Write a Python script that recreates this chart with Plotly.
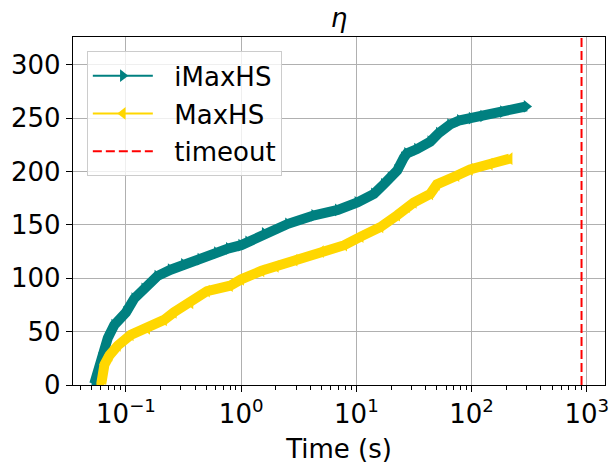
import plotly.graph_objects as go

# Cumulative number of solved instances against solve time (cactus plot)
IMAXHS_TIME = [0.053, 0.061, 0.0695, 0.079, 0.1, 0.118, 0.144, 0.187, 0.244, 0.318,
               0.442, 0.615, 0.78, 1.0, 1.15, 1.6, 2.55, 4.3, 6.9, 10.2,
               14.2, 17.3, 19.8, 22.6, 25.8, 27.5, 33.6, 43.8, 52, 65,
               79, 100, 126, 187, 300]
IMAXHS_SOLVED = [1, 25, 44, 56, 68, 81, 90, 102, 108, 113,
                 118, 124, 128, 131, 134, 142, 151, 159, 164, 171,
                 179, 188, 194, 201, 213, 217, 221, 228, 236, 244,
                 248, 250, 252, 256, 261]

MAXHS_TIME = [0.061, 0.065, 0.072, 0.085, 0.11, 0.153, 0.214, 0.26, 0.363, 0.505,
              0.8, 1.0, 1.5, 2.0, 2.91, 4.93, 7.85, 10.9, 16.2, 22.6,
              27.5, 31.5, 43.8, 50, 74, 97, 144, 214]
MAXHS_SOLVED = [1, 19, 28, 37, 47, 53, 61, 68, 77, 88,
                93, 99, 107, 111, 117, 125, 131, 139, 148, 159,
                167, 171, 179, 188, 196, 202, 207, 212]

TIMEOUT = 900
Y_TOP = 326

X_TICKS = [0.1, 1, 10, 100, 1000]
X_TICK_TEXT = ["10<sup>−1</sup>", "10<sup>0</sup>", "10<sup>1</sup>",
               "10<sup>2</sup>", "10<sup>3</sup>"]
X_MINOR = [m * 10.0 ** e for e in range(-2, 3) for m in range(2, 10)]
Y_TICKS = [0, 50, 100, 150, 200, 250, 300]

TEAL = "#008080"
GOLD = "#FFD700"
FONT = "DejaVu Sans"
GRID = "#b0b0b0"
FS = 26
PAD = "\u00a0\u00a0"  # extra gap between legend symbol and label

fig = go.Figure()

series = [
    ("iMaxHS", IMAXHS_TIME, IMAXHS_SOLVED, TEAL, "triangle-right"),
    ("MaxHS", MAXHS_TIME, MAXHS_SOLVED, GOLD, "triangle-left"),
]
for name, t, n, color, symbol in series:
    # dense marker band underneath
    fig.add_trace(go.Scatter(x=t, y=n, mode="lines", legendgroup=name,
                             line=dict(color=color, width=10),
                             showlegend=False, hoverinfo="skip"))
    fig.add_trace(go.Scatter(x=t, y=n, mode="lines+markers", name=PAD + name,
                             legendgroup=name,
                             line=dict(color=color, width=2),
                             marker=dict(symbol=symbol, size=11, color=color,
                                         line=dict(width=0))))

fig.add_trace(go.Scatter(x=[TIMEOUT, TIMEOUT], y=[0, Y_TOP], mode="lines",
                         name=PAD + "timeout", legendgroup="timeout",
                         line=dict(color="red", width=2, dash="9px,4px")))

fig.update_layout(
    width=615, height=465, autosize=False,
    margin=dict(l=73, r=6, t=37, b=74),
    paper_bgcolor="white", plot_bgcolor="white",
    font=dict(family=FONT, size=FS, color="black"),
    title=dict(text="<i>η</i>", x=0.5, xref="paper", xanchor="center",
               y=1 - 18 / 465, yref="container", yanchor="middle",
               font=dict(family=FONT, size=FS, color="black")),
    legend=dict(x=0.026, y=0.959, xanchor="left", yanchor="top",
                bgcolor="rgba(255,255,255,0.8)", bordercolor="#cccccc",
                borderwidth=1, font=dict(family=FONT, size=FS, color="black"),
                itemwidth=60, traceorder="grouped", tracegroupgap=1),
)

fig.update_xaxes(
    type="log", range=[-1.46, 3.158],
    tickmode="array", tickvals=X_TICKS, ticktext=X_TICK_TEXT,
    ticks="outside", ticklen=6, tickwidth=1.3, tickcolor="black",
    tickfont=dict(family=FONT, size=FS, color="black"),
    showline=True, linecolor="black", linewidth=1.3, mirror=True,
    showgrid=True, gridcolor=GRID, gridwidth=1.3, zeroline=False,
    title=dict(text="Time (s)", standoff=11,
               font=dict(family=FONT, size=FS, color="black")),
    minor=dict(tickmode="array", tickvals=X_MINOR, ticks="outside", ticklen=3.5,
               tickwidth=1, tickcolor="black", showgrid=False),
)
fig.update_yaxes(
    range=[0, Y_TOP], tickmode="array", tickvals=Y_TICKS,
    ticks="outside", ticklen=6, tickwidth=1.3, tickcolor="black",
    tickfont=dict(family=FONT, size=FS, color="black"),
    showline=True, linecolor="black", linewidth=1.3, mirror=True,
    showgrid=True, gridcolor=GRID, gridwidth=1.3, zeroline=False,
)

fig.write_html("out.html")
